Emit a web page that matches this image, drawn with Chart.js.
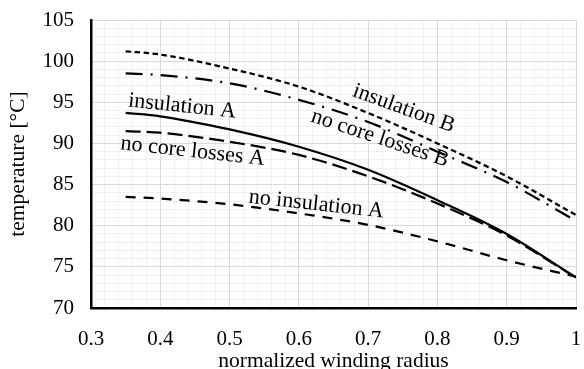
<!DOCTYPE html>
<html>
<head>
<meta charset="utf-8">
<script src="https://cdn.jsdelivr.net/npm/chart.js@4/dist/chart.umd.min.js"></script>
<style>
  html, body { margin: 0; padding: 0; background: #fff; }
  #wrap { width: 584px; height: 369px; }
</style>
</head>
<body>
<div id="wrap"><canvas id="chart"></canvas></div>
<script>
// normalized winding radius sample points
const RADIUS = [0.35, 0.4, 0.5, 0.6, 0.7, 0.8, 0.9, 1.0];

// winding temperature [°C] per case
const INSULATION_B = [101.2, 100.8, 99.1, 96.9, 93.7, 90.0, 86.0, 81.3];
const NO_CORE_LOSSES_B = [98.5, 98.3, 97.3, 95.3, 92.6, 89.0, 85.3, 80.6];
const INSULATION_A = [93.7, 93.3, 91.7, 89.6, 86.8, 83.1, 79.0, 73.7];
const NO_CORE_LOSSES_A = [91.5, 91.3, 90.2, 88.6, 86.0, 82.7, 78.8, 73.7];
const NO_INSULATION_A = [83.5, 83.3, 82.6, 81.5, 80.1, 78.1, 75.8, 73.8];

const X_MIN = 0.3, X_MAX = 1, X_STEP = 0.1, X_MINOR = 0.02;
const Y_MIN = 70, Y_MAX = 105, Y_STEP = 5, Y_MINOR = 1;

const FONT = "'Liberation Serif', 'Times New Roman', serif";
const MAJOR_GRID = "#d9d9d9";
const MINOR_GRID = "#f0f0f0";

// inline curve names, anchored in data units
const CURVE_LABELS = [
  { text: "insulation A", x: 0.353, y: 94.5, angle: 6 },
  { text: "no core losses A", x: 0.342, y: 89.3, angle: 6.3 },
  { text: "no insulation A", x: 0.527, y: 82.8, angle: 6.3 },
  { text: "insulation B", x: 0.676, y: 95.8, angle: 20 },
  { text: "no core losses B", x: 0.616, y: 92.7, angle: 18.4 },
];

function points(values) {
  return RADIUS.map((r, i) => ({ x: r, y: values[i] }));
}

function curve(label, values, dash) {
  return {
    label,
    data: points(values),
    borderColor: "#000",
    backgroundColor: "#000",
    borderWidth: 2.25,
    borderDash: dash,
    borderCapStyle: "butt",
    pointRadius: 0,
    fill: false,
    cubicInterpolationMode: "monotone",
  };
}

function onStep(v, step) {
  const k = v / step;
  return Math.abs(k - Math.round(k)) < 1e-6;
}

// keep the plot box fixed, labels may hang over the edges
function noPadding(s) {
  s.paddingTop = 0;
  s.paddingBottom = 0;
  s.paddingLeft = 0;
  s.paddingRight = 0;
}

const curveLabels = {
  id: "curveLabels",
  afterDatasetsDraw(chart) {
    const { ctx, scales } = chart;
    ctx.save();
    ctx.font = "22px " + FONT;
    ctx.fillStyle = "#000";
    ctx.textAlign = "left";
    ctx.textBaseline = "alphabetic";
    CURVE_LABELS.forEach((l) => {
      const px = scales.x.getPixelForValue(l.x);
      const py = scales.y.getPixelForValue(l.y);
      ctx.save();
      ctx.translate(px, py);
      ctx.rotate(l.angle * Math.PI / 180);
      ctx.fillText(l.text, 0, 0);
      ctx.restore();
    });
    ctx.restore();
  },
};

new Chart(document.getElementById("chart").getContext("2d"), {
  type: "line",
  data: {
    datasets: [
      curve("insulation B", INSULATION_B, [5.5, 3.5]),
      curve("no core losses B", NO_CORE_LOSSES_B, [17, 8, 2, 8]),
      curve("insulation A", INSULATION_A, []),
      curve("no core losses A", NO_CORE_LOSSES_A, [15, 6]),
      curve("no insulation A", NO_INSULATION_A, [10, 8]),
    ],
  },
  plugins: [curveLabels],
  options: {
    responsive: true,
    maintainAspectRatio: false,
    animation: false,
    layout: { padding: { top: 20, right: 8, bottom: 0, left: 0 } },
    plugins: {
      legend: { display: false },
      tooltip: { enabled: false },
    },
    scales: {
      xMinor: {
        type: "linear",
        position: "bottom",
        min: X_MIN,
        max: X_MAX,
        ticks: { display: false, stepSize: X_MINOR },
        grid: {
          drawTicks: false,
          color: (c) => (onStep(c.tick.value, X_STEP) ? "rgba(0,0,0,0)" : MINOR_GRID),
        },
        border: { display: false },
        afterFit: (s) => { s.height = 0; noPadding(s); },
      },
      yMinor: {
        type: "linear",
        position: "left",
        min: Y_MIN,
        max: Y_MAX,
        ticks: { display: false, stepSize: Y_MINOR },
        grid: {
          drawTicks: false,
          color: (c) => (onStep(c.tick.value, Y_STEP) ? "rgba(0,0,0,0)" : MINOR_GRID),
        },
        border: { display: false },
        afterFit: (s) => { s.width = 0; noPadding(s); },
      },
      x: {
        type: "linear",
        position: "bottom",
        min: X_MIN,
        max: X_MAX,
        ticks: {
          stepSize: X_STEP,
          color: "#000",
          padding: 19,
          maxRotation: 0,
          font: { family: FONT, size: 21 },
          callback: (v) => String(Math.round(v * 10) / 10),
        },
        grid: { color: MAJOR_GRID, drawTicks: false },
        border: { color: "#000", width: 2.5 },
        title: {
          display: true,
          text: "normalized winding radius",
          color: "#000",
          font: { family: FONT, size: 21.5 },
          padding: { top: 0, bottom: -5 },
        },
        afterFit: (s) => { s.height = 61; noPadding(s); },
      },
      y: {
        type: "linear",
        position: "left",
        min: Y_MIN,
        max: Y_MAX,
        ticks: {
          stepSize: Y_STEP,
          color: "#000",
          padding: 17,
          font: { family: FONT, size: 21 },
        },
        grid: { color: MAJOR_GRID, drawTicks: false },
        border: { color: "#000", width: 2.5 },
        title: {
          display: true,
          text: "temperature [°C]",
          color: "#000",
          font: { family: FONT, size: 21.5 },
          padding: { top: 5, bottom: 0 },
        },
        afterFit: (s) => { s.width = 91; noPadding(s); },
      },
    },
  },
});
</script>
</body>
</html>
